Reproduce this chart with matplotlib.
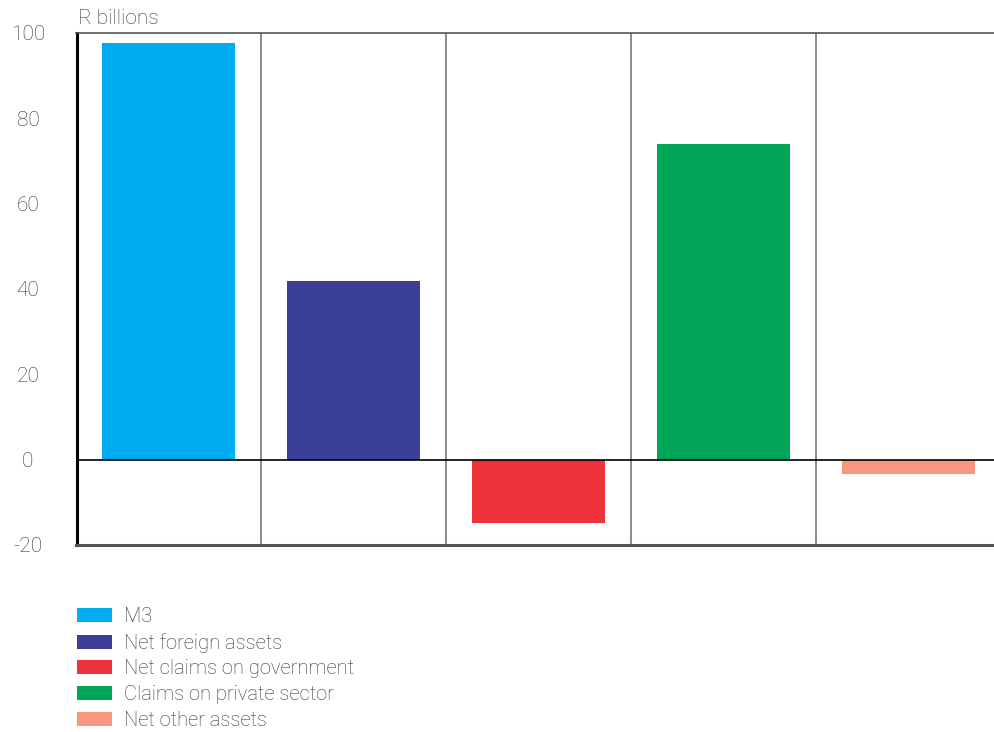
import matplotlib
matplotlib.use("Agg")
import matplotlib.pyplot as plt
from matplotlib.patches import Patch

categories = ["M3", "Net foreign assets", "Net claims on government",
              "Claims on private sector", "Net other assets"]
values = [97.6, 41.9, -14.8, 73.9, -3.3]
colors = ["#00AEEF", "#3B3F97", "#EE3239", "#00A558", "#F7977F"]
yticks = [-20, 0, 20, 40, 60, 80, 100]
inner_ticks = [20, 40, 60, 80]

plt.rcParams['font.family'] = ['Roboto', 'Liberation Sans', 'DejaVu Sans']
plt.rcParams['font.weight'] = 'light'
txt = "#333333"

fig = plt.figure(figsize=(9.95, 7.32), dpi=100)
ax = fig.add_axes([76.5/995, 1-545/732, 924/995, (545-33)/732])

x = list(range(len(categories)))
ax.bar(x, values, width=0.72, color=colors, zorder=2)
ax.set_xlim(-0.5, len(categories)-0.5)
ax.set_ylim(-20, 100)
ax.set_yticks(yticks)
ax.set_yticklabels([str(v) for v in yticks], fontsize=15, color=txt, ha='center')
ax.set_yticks(inner_ticks, minor=True)
ax.set_xticks([])
ax.tick_params(axis='y', which='major', direction='in', length=0, pad=35)
ax.tick_params(axis='y', which='minor', direction='in', length=16, width=1.8, color='black')

for i in range(1, len(categories)):
    ax.axvline(i-0.5, color='#777777', lw=1.2, zorder=1)
ax.axhline(0, color='black', lw=1.2, zorder=3)

ax.spines['left'].set_color('black')
ax.spines['left'].set_linewidth(2.2)
ax.spines['top'].set_color('#555555')
ax.spines['top'].set_linewidth(1.2)
ax.spines['bottom'].set_color('#555555')
ax.spines['bottom'].set_linewidth(2.2)
ax.spines['right'].set_visible(False)

fig.text(78/995, 1-19/732, "R billions", fontsize=15, color=txt, va='center', ha='left')

handles = [Patch(facecolor=c, edgecolor='none') for c in colors]
leg = fig.legend(handles, categories, loc='upper left', bbox_to_anchor=(77/995, 1-607/732),
                 frameon=False, fontsize=14.5, labelcolor=txt, handlelength=1.75,
                 handleheight=0.7, handletextpad=0.6, labelspacing=0.34, borderaxespad=0,
                 borderpad=0)

fig.savefig("out.png", dpi=100)
